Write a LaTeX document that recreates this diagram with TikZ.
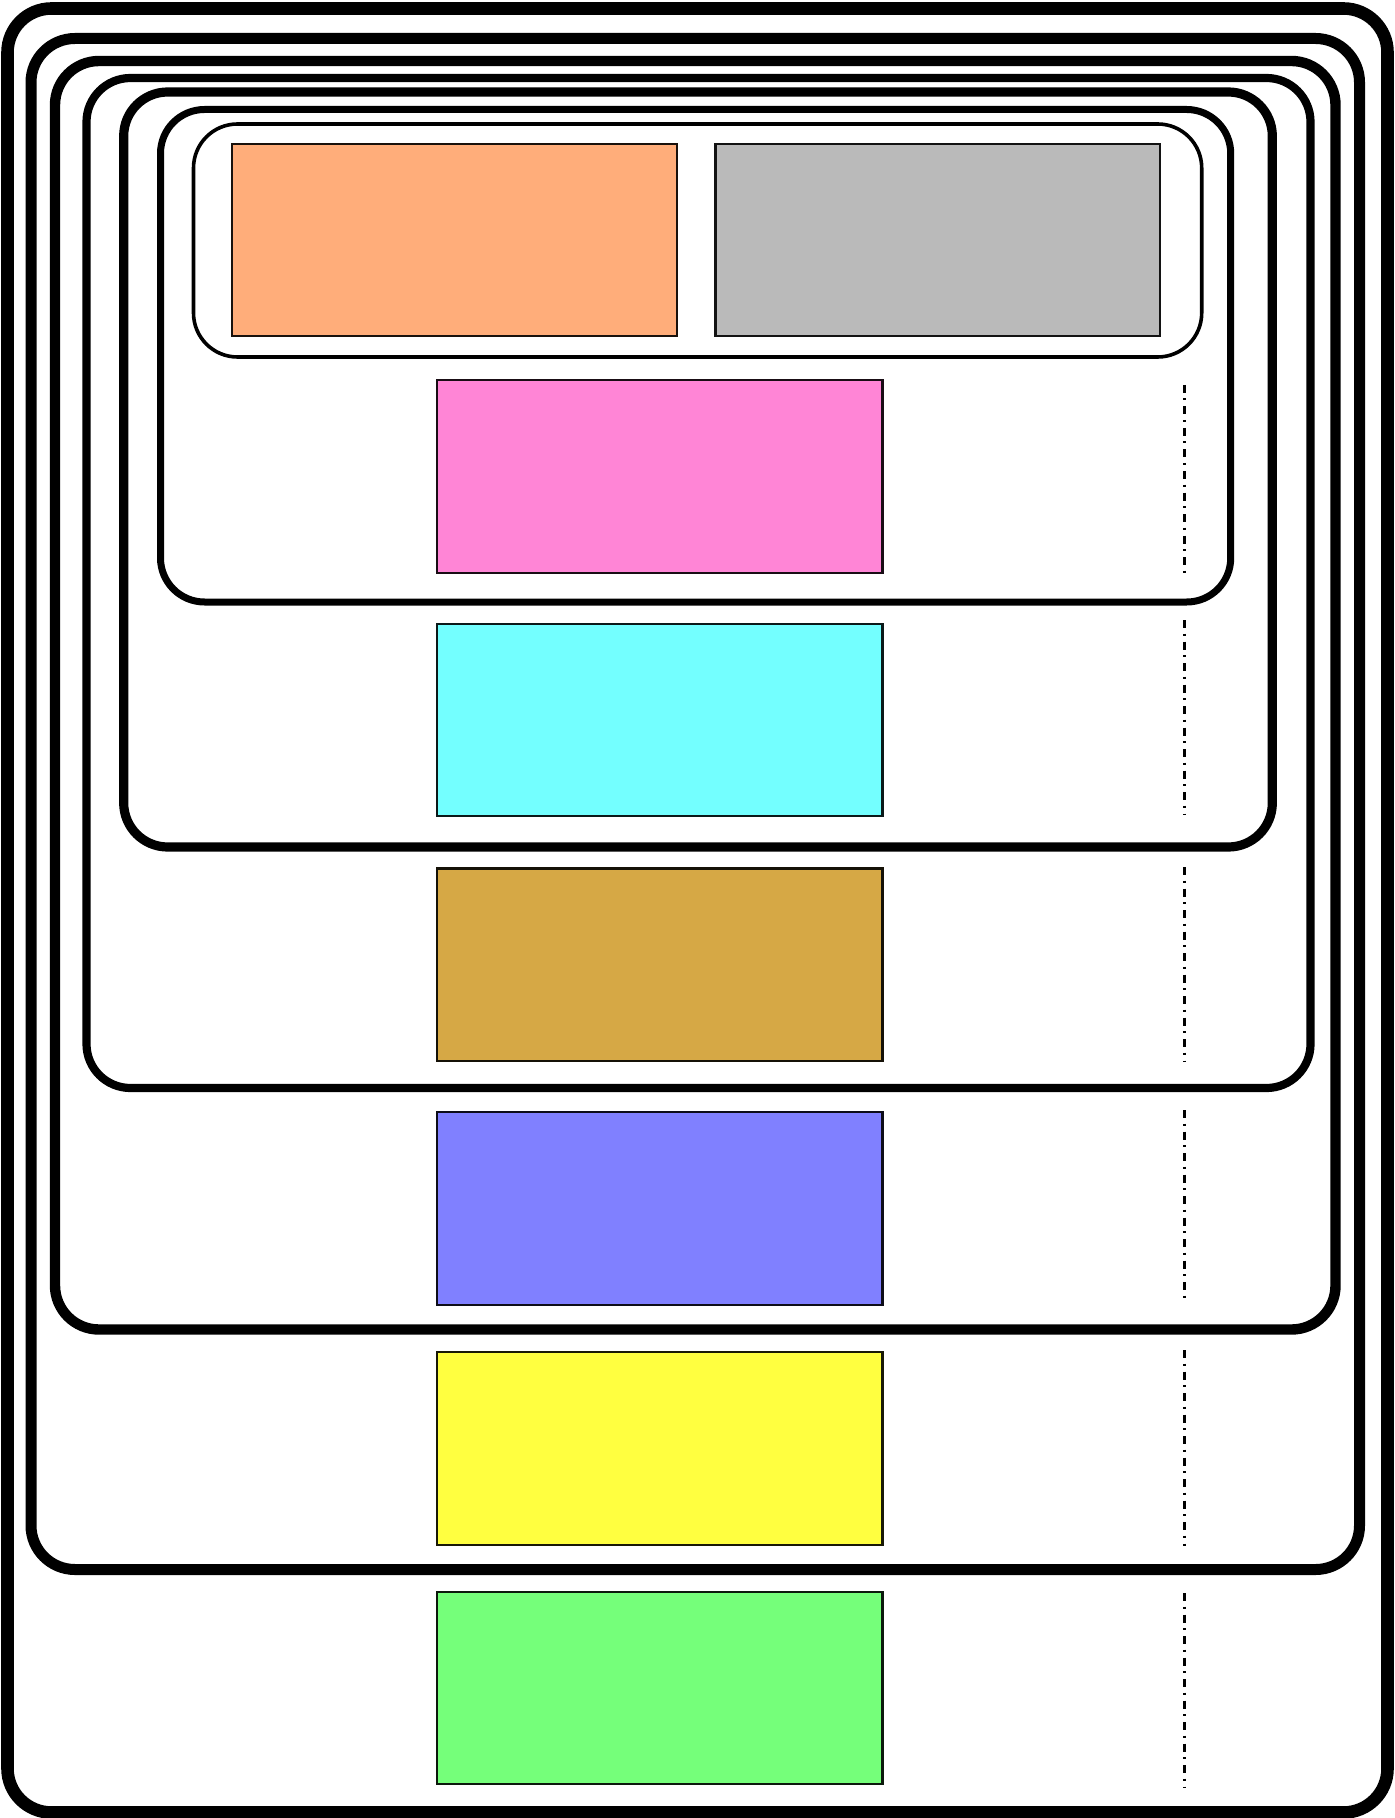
\documentclass[tikz,border=0pt]{standalone}
\begin{document}
\begin{tikzpicture}[x=0.5pt,y=-0.5pt,
  frame/.style={draw=black,rounded corners=22pt},
  colbox/.style={draw=#1!10!black,fill=#1,line width=1.3pt},
  dashdotline/.style={draw=black,line width=1.5pt,dash pattern=on 4pt off 2.75pt on 1pt off 3pt}]
\definecolor{corange}{RGB}{255,173,122}
\definecolor{cgray}{RGB}{186,186,186}
\definecolor{cpink}{RGB}{255,133,214}
\definecolor{ccyan}{RGB}{115,255,255}
\definecolor{cgold}{RGB}{214,168,69}
\definecolor{cblue}{RGB}{128,128,255}
\definecolor{cyellow}{RGB}{255,255,64}
\definecolor{cgreen}{RGB}{117,255,122}
\useasboundingbox (0,0) rectangle (1394,1818);
% nested frames
\draw[frame,line width=6.3pt] (7.5,8.5) rectangle (1387.5,1812.5);
\draw[frame,line width=5.5pt] (31,38.5) rectangle (1359.5,1569.5);
\draw[frame,line width=5.2pt] (55,61) rectangle (1335.5,1329.5);
\draw[frame,line width=4.1pt] (86.5,78) rectangle (1310.5,1088);
\draw[frame,line width=4.6pt] (123.7,92) rectangle (1272.3,847);
\draw[frame,line width=3.5pt] (160.5,109.5) rectangle (1230.7,602);
\draw[frame,line width=1.8pt] (193.5,124) rectangle (1201.7,357);
% coloured boxes
\draw[colbox=corange] (232,144) rectangle (677,336);
\draw[colbox=cgray] (715.5,144) rectangle (1160,336);
\draw[colbox=cpink] (437,380) rectangle (882.5,573);
\draw[colbox=ccyan] (437,624) rectangle (882.5,816);
\draw[colbox=cgold] (437,868.6) rectangle (882.5,1061);
\draw[colbox=cblue] (437,1112) rectangle (882.5,1305);
\draw[colbox=cyellow] (437,1352) rectangle (882.5,1545);
\draw[colbox=cgreen] (437,1592) rectangle (882.5,1784);
% dash-dot lines
\coordinate (d1a) at (1184,385); \coordinate (d1b) at (1184,577);
\coordinate (d2a) at (1184,620); \coordinate (d2b) at (1184,815);
\coordinate (d3a) at (1184,867); \coordinate (d3b) at (1184,1062);
\coordinate (d4a) at (1184,1110); \coordinate (d4b) at (1184,1303);
\coordinate (d5a) at (1184,1350); \coordinate (d5b) at (1184,1546);
\coordinate (d6a) at (1184,1593); \coordinate (d6b) at (1184,1787);
\draw[dashdotline] (d1a) -- (d1b);
\draw[dashdotline] (d2a) -- (d2b);
\draw[dashdotline] (d3a) -- (d3b);
\draw[dashdotline] (d4a) -- (d4b);
\draw[dashdotline] (d5a) -- (d5b);
\draw[dashdotline] (d6a) -- (d6b);
\end{tikzpicture}
\end{document}
